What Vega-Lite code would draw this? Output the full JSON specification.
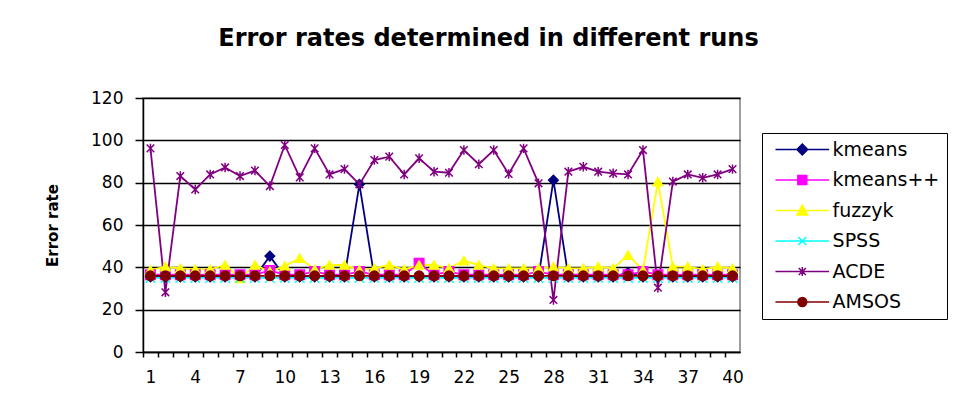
{
  "$schema": "https://vega.github.io/schema/vega-lite/v6.json",
  "autosize": {"type": "none"},
  "width": 597,
  "height": 254,
  "padding": {"left": 143, "top": 98, "right": 216, "bottom": 54},
  "background": "white",
  "config": {
    "font": "DejaVu Sans",
    "view": {"stroke": "#808080", "strokeWidth": 1.5},
    "axis": {"domainColor": "#000", "domainWidth": 1.5, "tickColor": "#000", "tickWidth": 1.5, "labelColor": "#000", "labelFont": "DejaVu Sans", "labelFontSize": 17, "titleColor": "#000"}
  },
  "title": {"text": "Error rates determined in different runs", "fontSize": 24, "fontWeight": "bold", "font": "DejaVu Sans", "color": "#000", "anchor": "middle", "dx": 47, "offset": 38},
  "data": {"values": [
    {"run":1,"method":"kmeans","rate":35.5},{"run":2,"method":"kmeans","rate":35.5},{"run":3,"method":"kmeans","rate":35.5},{"run":4,"method":"kmeans","rate":35.5},{"run":5,"method":"kmeans","rate":35.5},{"run":6,"method":"kmeans","rate":35.5},{"run":7,"method":"kmeans","rate":35.5},{"run":8,"method":"kmeans","rate":35.5},{"run":9,"method":"kmeans","rate":45.3},{"run":10,"method":"kmeans","rate":35.5},
    {"run":11,"method":"kmeans","rate":35.5},{"run":12,"method":"kmeans","rate":35.5},{"run":13,"method":"kmeans","rate":35.5},{"run":14,"method":"kmeans","rate":35.5},{"run":15,"method":"kmeans","rate":79.2},{"run":16,"method":"kmeans","rate":35.5},{"run":17,"method":"kmeans","rate":35.5},{"run":18,"method":"kmeans","rate":35.5},{"run":19,"method":"kmeans","rate":35.5},{"run":20,"method":"kmeans","rate":35.5},
    {"run":21,"method":"kmeans","rate":35.5},{"run":22,"method":"kmeans","rate":35.5},{"run":23,"method":"kmeans","rate":35.5},{"run":24,"method":"kmeans","rate":35.5},{"run":25,"method":"kmeans","rate":35.5},{"run":26,"method":"kmeans","rate":35.5},{"run":27,"method":"kmeans","rate":35.5},{"run":28,"method":"kmeans","rate":81.2},{"run":29,"method":"kmeans","rate":35.5},{"run":30,"method":"kmeans","rate":35.5},
    {"run":31,"method":"kmeans","rate":35.5},{"run":32,"method":"kmeans","rate":35.5},{"run":33,"method":"kmeans","rate":37.5},{"run":34,"method":"kmeans","rate":35.5},{"run":35,"method":"kmeans","rate":35.5},{"run":36,"method":"kmeans","rate":35.5},{"run":37,"method":"kmeans","rate":35.5},{"run":38,"method":"kmeans","rate":35.5},{"run":39,"method":"kmeans","rate":35.5},{"run":40,"method":"kmeans","rate":35.5},

    {"run":1,"method":"kmeans++","rate":36.5},{"run":2,"method":"kmeans++","rate":36.5},{"run":3,"method":"kmeans++","rate":36.5},{"run":4,"method":"kmeans++","rate":36.5},{"run":5,"method":"kmeans++","rate":36.5},{"run":6,"method":"kmeans++","rate":36.5},{"run":7,"method":"kmeans++","rate":36.5},{"run":8,"method":"kmeans++","rate":36.5},{"run":9,"method":"kmeans++","rate":38.5},{"run":10,"method":"kmeans++","rate":36.5},
    {"run":11,"method":"kmeans++","rate":36.5},{"run":12,"method":"kmeans++","rate":38},{"run":13,"method":"kmeans++","rate":36.5},{"run":14,"method":"kmeans++","rate":36.5},{"run":15,"method":"kmeans++","rate":38},{"run":16,"method":"kmeans++","rate":36.5},{"run":17,"method":"kmeans++","rate":36.5},{"run":18,"method":"kmeans++","rate":36.5},{"run":19,"method":"kmeans++","rate":41.9},{"run":20,"method":"kmeans++","rate":36.5},
    {"run":21,"method":"kmeans++","rate":38},{"run":22,"method":"kmeans++","rate":36.5},{"run":23,"method":"kmeans++","rate":36.5},{"run":24,"method":"kmeans++","rate":36.5},{"run":25,"method":"kmeans++","rate":36.5},{"run":26,"method":"kmeans++","rate":36.5},{"run":27,"method":"kmeans++","rate":38},{"run":28,"method":"kmeans++","rate":36.5},{"run":29,"method":"kmeans++","rate":36.5},{"run":30,"method":"kmeans++","rate":36.5},
    {"run":31,"method":"kmeans++","rate":36.5},{"run":32,"method":"kmeans++","rate":36.5},{"run":33,"method":"kmeans++","rate":36.5},{"run":34,"method":"kmeans++","rate":38},{"run":35,"method":"kmeans++","rate":36.5},{"run":36,"method":"kmeans++","rate":36.5},{"run":37,"method":"kmeans++","rate":36.5},{"run":38,"method":"kmeans++","rate":36.5},{"run":39,"method":"kmeans++","rate":36.5},{"run":40,"method":"kmeans++","rate":36.5},

    {"run":1,"method":"fuzzyk","rate":38.7},{"run":2,"method":"fuzzyk","rate":40.3},{"run":3,"method":"fuzzyk","rate":39.5},{"run":4,"method":"fuzzyk","rate":39.0},{"run":5,"method":"fuzzyk","rate":39.0},{"run":6,"method":"fuzzyk","rate":41.1},{"run":7,"method":"fuzzyk","rate":34.8},{"run":8,"method":"fuzzyk","rate":41.1},{"run":9,"method":"fuzzyk","rate":38.0},{"run":10,"method":"fuzzyk","rate":40.7},
    {"run":11,"method":"fuzzyk","rate":44.3},{"run":12,"method":"fuzzyk","rate":39.0},{"run":13,"method":"fuzzyk","rate":41.1},{"run":14,"method":"fuzzyk","rate":41.1},{"run":15,"method":"fuzzyk","rate":38.7},{"run":16,"method":"fuzzyk","rate":39.5},{"run":17,"method":"fuzzyk","rate":41.1},{"run":18,"method":"fuzzyk","rate":39.0},{"run":19,"method":"fuzzyk","rate":41.1},{"run":20,"method":"fuzzyk","rate":41.1},
    {"run":21,"method":"fuzzyk","rate":39.5},{"run":22,"method":"fuzzyk","rate":43.2},{"run":23,"method":"fuzzyk","rate":41.1},{"run":24,"method":"fuzzyk","rate":39.5},{"run":25,"method":"fuzzyk","rate":39.5},{"run":26,"method":"fuzzyk","rate":39.5},{"run":27,"method":"fuzzyk","rate":39.5},{"run":28,"method":"fuzzyk","rate":40.3},{"run":29,"method":"fuzzyk","rate":39.5},{"run":30,"method":"fuzzyk","rate":39.5},
    {"run":31,"method":"fuzzyk","rate":40.3},{"run":32,"method":"fuzzyk","rate":39.5},{"run":33,"method":"fuzzyk","rate":45.8},{"run":34,"method":"fuzzyk","rate":38.7},{"run":35,"method":"fuzzyk","rate":80.5},{"run":36,"method":"fuzzyk","rate":40.3},{"run":37,"method":"fuzzyk","rate":40.3},{"run":38,"method":"fuzzyk","rate":39.0},{"run":39,"method":"fuzzyk","rate":40.3},{"run":40,"method":"fuzzyk","rate":39.5},

    {"run":1,"method":"SPSS","rate":35},{"run":2,"method":"SPSS","rate":35},{"run":3,"method":"SPSS","rate":35},{"run":4,"method":"SPSS","rate":35},{"run":5,"method":"SPSS","rate":35},{"run":6,"method":"SPSS","rate":35},{"run":7,"method":"SPSS","rate":35},{"run":8,"method":"SPSS","rate":35},{"run":9,"method":"SPSS","rate":35},{"run":10,"method":"SPSS","rate":35},
    {"run":11,"method":"SPSS","rate":35},{"run":12,"method":"SPSS","rate":35},{"run":13,"method":"SPSS","rate":35},{"run":14,"method":"SPSS","rate":35},{"run":15,"method":"SPSS","rate":35},{"run":16,"method":"SPSS","rate":35},{"run":17,"method":"SPSS","rate":35},{"run":18,"method":"SPSS","rate":35},{"run":19,"method":"SPSS","rate":35},{"run":20,"method":"SPSS","rate":35},
    {"run":21,"method":"SPSS","rate":35},{"run":22,"method":"SPSS","rate":35},{"run":23,"method":"SPSS","rate":35},{"run":24,"method":"SPSS","rate":35},{"run":25,"method":"SPSS","rate":35},{"run":26,"method":"SPSS","rate":35},{"run":27,"method":"SPSS","rate":35},{"run":28,"method":"SPSS","rate":35},{"run":29,"method":"SPSS","rate":35},{"run":30,"method":"SPSS","rate":35},
    {"run":31,"method":"SPSS","rate":35},{"run":32,"method":"SPSS","rate":35},{"run":33,"method":"SPSS","rate":35},{"run":34,"method":"SPSS","rate":35},{"run":35,"method":"SPSS","rate":35},{"run":36,"method":"SPSS","rate":35},{"run":37,"method":"SPSS","rate":35},{"run":38,"method":"SPSS","rate":35},{"run":39,"method":"SPSS","rate":35},{"run":40,"method":"SPSS","rate":35},

    {"run":1,"method":"ACDE","rate":96.2},{"run":2,"method":"ACDE","rate":28.2},{"run":3,"method":"ACDE","rate":83.1},{"run":4,"method":"ACDE","rate":76.8},{"run":5,"method":"ACDE","rate":83.9},{"run":6,"method":"ACDE","rate":87.2},{"run":7,"method":"ACDE","rate":83.1},{"run":8,"method":"ACDE","rate":85.7},{"run":9,"method":"ACDE","rate":78.4},{"run":10,"method":"ACDE","rate":97.8},
    {"run":11,"method":"ACDE","rate":82.5},{"run":12,"method":"ACDE","rate":96.2},{"run":13,"method":"ACDE","rate":83.9},{"run":14,"method":"ACDE","rate":86.4},{"run":15,"method":"ACDE","rate":79.2},{"run":16,"method":"ACDE","rate":90.7},{"run":17,"method":"ACDE","rate":92.3},{"run":18,"method":"ACDE","rate":83.9},{"run":19,"method":"ACDE","rate":91.5},{"run":20,"method":"ACDE","rate":85.2},
    {"run":21,"method":"ACDE","rate":84.7},{"run":22,"method":"ACDE","rate":95.4},{"run":23,"method":"ACDE","rate":88.7},{"run":24,"method":"ACDE","rate":95.4},{"run":25,"method":"ACDE","rate":84.1},{"run":26,"method":"ACDE","rate":96.2},{"run":27,"method":"ACDE","rate":79.7},{"run":28,"method":"ACDE","rate":24.6},{"run":29,"method":"ACDE","rate":85.2},{"run":30,"method":"ACDE","rate":87.5},
    {"run":31,"method":"ACDE","rate":85.2},{"run":32,"method":"ACDE","rate":84.4},{"run":33,"method":"ACDE","rate":83.9},{"run":34,"method":"ACDE","rate":95.4},{"run":35,"method":"ACDE","rate":30.4},{"run":36,"method":"ACDE","rate":80.5},{"run":37,"method":"ACDE","rate":83.9},{"run":38,"method":"ACDE","rate":82.3},{"run":39,"method":"ACDE","rate":83.9},{"run":40,"method":"ACDE","rate":86.4},

    {"run":1,"method":"AMSOS","rate":36},{"run":2,"method":"AMSOS","rate":36},{"run":3,"method":"AMSOS","rate":36},{"run":4,"method":"AMSOS","rate":36},{"run":5,"method":"AMSOS","rate":36},{"run":6,"method":"AMSOS","rate":36},{"run":7,"method":"AMSOS","rate":36},{"run":8,"method":"AMSOS","rate":36},{"run":9,"method":"AMSOS","rate":36},{"run":10,"method":"AMSOS","rate":36},
    {"run":11,"method":"AMSOS","rate":36},{"run":12,"method":"AMSOS","rate":36},{"run":13,"method":"AMSOS","rate":36},{"run":14,"method":"AMSOS","rate":36},{"run":15,"method":"AMSOS","rate":36},{"run":16,"method":"AMSOS","rate":36},{"run":17,"method":"AMSOS","rate":36},{"run":18,"method":"AMSOS","rate":36},{"run":19,"method":"AMSOS","rate":36},{"run":20,"method":"AMSOS","rate":36},
    {"run":21,"method":"AMSOS","rate":36},{"run":22,"method":"AMSOS","rate":36},{"run":23,"method":"AMSOS","rate":36},{"run":24,"method":"AMSOS","rate":36},{"run":25,"method":"AMSOS","rate":36},{"run":26,"method":"AMSOS","rate":36},{"run":27,"method":"AMSOS","rate":36},{"run":28,"method":"AMSOS","rate":36},{"run":29,"method":"AMSOS","rate":36},{"run":30,"method":"AMSOS","rate":36},
    {"run":31,"method":"AMSOS","rate":36},{"run":32,"method":"AMSOS","rate":36},{"run":33,"method":"AMSOS","rate":36},{"run":34,"method":"AMSOS","rate":36},{"run":35,"method":"AMSOS","rate":36},{"run":36,"method":"AMSOS","rate":36},{"run":37,"method":"AMSOS","rate":36},{"run":38,"method":"AMSOS","rate":36},{"run":39,"method":"AMSOS","rate":36},{"run":40,"method":"AMSOS","rate":36}
  ]},
  "encoding": {
    "x": {"field": "run", "type": "quantitative",
      "scale": {"domain": [0.5, 40.5], "nice": false, "zero": false},
      "axis": {"title": null, "grid": false, "values": [1,2,3,4,5,6,7,8,9,10,11,12,13,14,15,16,17,18,19,20,21,22,23,24,25,26,27,28,29,30,31,32,33,34,35,36,37,38,39,40],
        "labelExpr": "(datum.value - 1) % 3 == 0 ? datum.label : ''", "tickOffset": -7.46, "labelOffset": 7.46, "tickSize": 5, "labelPadding": 12, "labelFlush": false, "labelOverlap": false, "labelBound": false}},
    "y": {"field": "rate", "type": "quantitative",
      "scale": {"domain": [0, 120], "nice": false},
      "axis": {"title": "Error rate", "titleFont": "DejaVu Sans", "titleFontSize": 15, "titleFontWeight": "bold", "titlePadding": 30, "values": [0,20,40,60,80,100,120], "grid": true, "gridColor": "#000", "gridWidth": 1.5, "tickSize": 8, "labelPadding": 12}}
  },
  "layer": [
    {
      "mark": {"type": "line", "strokeWidth": 1.8},
      "encoding": {
        "color": {"field": "method", "type": "nominal",
          "scale": {"domain": ["kmeans","kmeans++","fuzzyk","SPSS","ACDE","AMSOS"], "range": ["#000080","#FF00FF","#FFFF00","#00FFFF","#800080","#800000"]},
          "legend": null}
      }
    },
    {
      "mark": {"type": "point", "filled": true, "size": 90, "strokeWidth": 1.5, "opacity": 1},
      "encoding": {
        "color": {"field": "method", "type": "nominal",
          "scale": {"domain": ["kmeans","kmeans++","fuzzyk","SPSS","ACDE","AMSOS"], "range": ["#000080","#FF00FF","#FFFF00","#00FFFF","#800080","#800000"]},
          "legend": null},
        "stroke": {"field": "method", "type": "nominal",
          "scale": {"domain": ["kmeans","kmeans++","fuzzyk","SPSS","ACDE","AMSOS"], "range": ["#000080","#FF00FF","#FFFF00","#00FFFF","#800080","#800000"]},
          "legend": null},
        "shape": {"field": "method", "type": "nominal",
          "scale": {"domain": ["kmeans","kmeans++","fuzzyk","SPSS","ACDE","AMSOS"], "range": ["diamond","square","triangle-up","M-1,-1L1,1M-1,1L1,-1","M-0.8,-0.8L0.8,0.8M-0.8,0.8L0.8,-0.8M0,-1L0,1","circle"]},
          "legend": null}
      }
    },
    {
      "mark": {"type": "point", "filled": true, "size": 80, "strokeWidth": 1.5, "opacity": 0},
      "encoding": {
        "fill": {"field": "method", "type": "nominal",
          "scale": {"domain": ["kmeans","kmeans++","fuzzyk","SPSS","ACDE","AMSOS"], "range": ["#000080","#FF00FF","#FFFF00","#00FFFF","#800080","#800000"]},
          "legend": {"orient": "none", "legendX": 619, "legendY": 35, "title": null, "symbolSize": 80, "symbolStrokeWidth": 1.5, "symbolOpacity": 1, "symbolOffset": 23.8, "labelOffset": 20.8, "labelFontSize": 19, "labelFont": "DejaVu Sans", "labelColor": "#000", "strokeColor": "#000", "fillColor": "white", "padding": 7, "rowPadding": 10.5}},
        "stroke": {"field": "method", "type": "nominal",
          "scale": {"domain": ["kmeans","kmeans++","fuzzyk","SPSS","ACDE","AMSOS"], "range": ["#000080","#FF00FF","#FFFF00","#00FFFF","#800080","#800000"]},
          "legend": {"orient": "none", "legendX": 619, "legendY": 35, "title": null, "symbolSize": 80, "symbolStrokeWidth": 1.5, "symbolOpacity": 1, "symbolOffset": 23.8, "labelOffset": 20.8, "labelFontSize": 19, "labelFont": "DejaVu Sans", "labelColor": "#000", "strokeColor": "#000", "fillColor": "white", "padding": 7, "rowPadding": 10.5}},
        "shape": {"field": "method", "type": "nominal",
          "scale": {"domain": ["kmeans","kmeans++","fuzzyk","SPSS","ACDE","AMSOS"], "range": ["M-6,0L6,0M0,-1.2L1.2,0L0,1.2L-1.2,0Z","M-6,0L6,0M-1,-1L1,-1L1,1L-1,1Z","M-6,0L6,0M0,-1.2L1.2,1L-1.2,1Z","M-6,0L6,0M-0.9,-0.9L0.9,0.9M-0.9,0.9L0.9,-0.9","M-6,0L6,0M-0.8,-0.8L0.8,0.8M-0.8,0.8L0.8,-0.8M0,-1L0,1","M-6,0L6,0M1,0A1,1,0,1,1,-1,0A1,1,0,1,1,1,0Z"]},
          "legend": {"orient": "none", "legendX": 619, "legendY": 35, "title": null, "symbolSize": 80, "symbolStrokeWidth": 1.5, "symbolOpacity": 1, "symbolOffset": 23.8, "labelOffset": 20.8, "labelFontSize": 19, "labelFont": "DejaVu Sans", "labelColor": "#000", "strokeColor": "#000", "fillColor": "white", "padding": 7, "rowPadding": 10.5}}
      }
    }
  ],
  "resolve": {"scale": {"fill": "independent", "stroke": "independent", "shape": "independent"}, "legend": {"fill": "independent", "stroke": "independent", "shape": "independent"}}
}
